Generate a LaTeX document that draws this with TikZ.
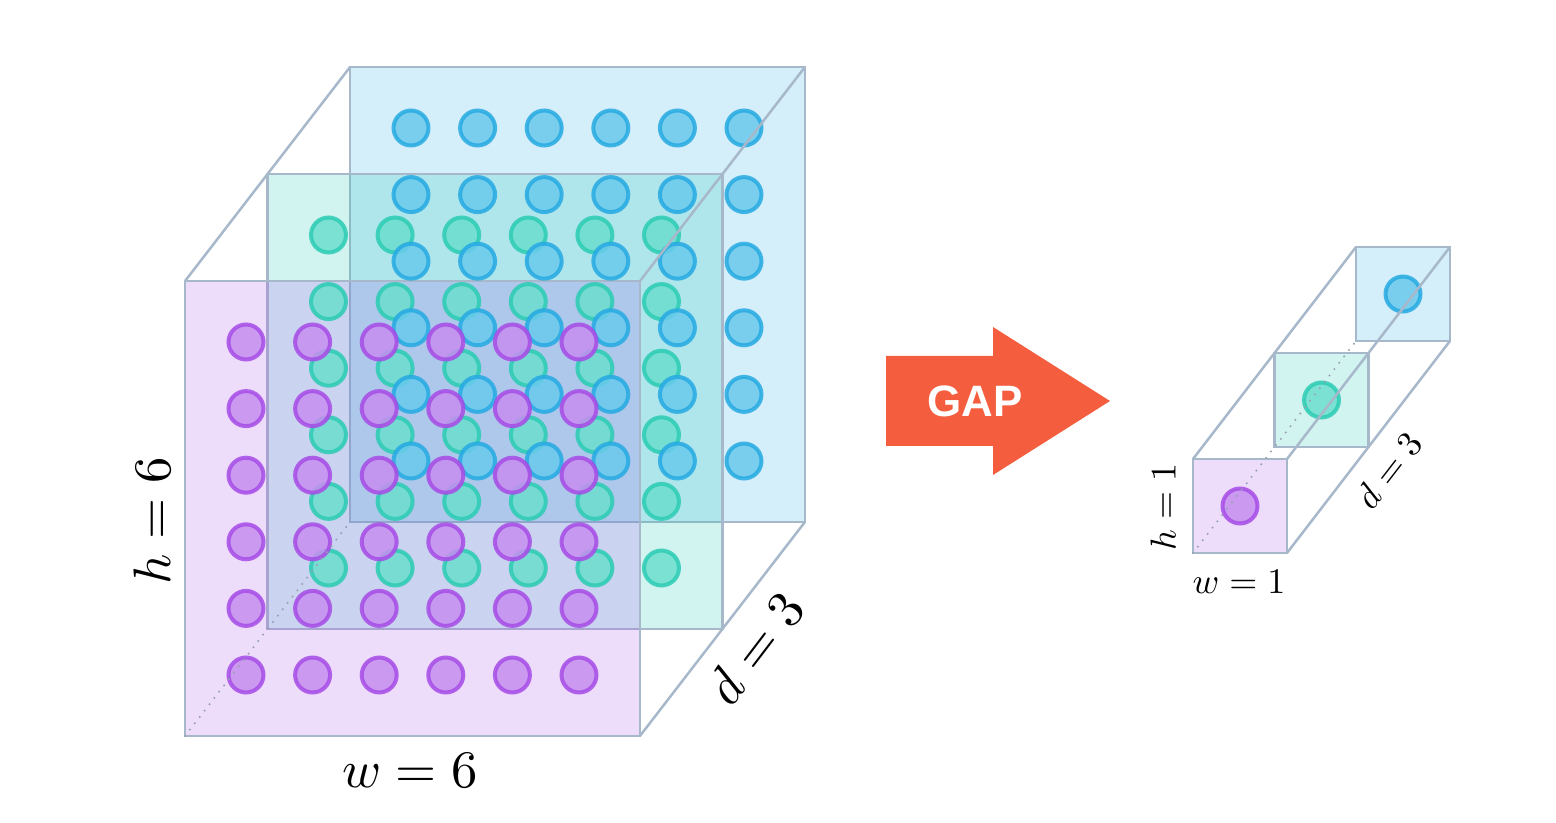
\documentclass[tikz,border=0pt]{standalone}
\usepackage{fontspec}
\newfontfamily\gapfont{Liberation Sans}
\definecolor{edgegrey}{RGB}{168,184,203}
\definecolor{hidgrey}{RGB}{150,160,176}
\definecolor{violetfc}{RGB}{170,80,235}
\definecolor{tealfc}{RGB}{30,200,180}
\definecolor{bluefc}{RGB}{40,170,230}
\definecolor{violetring}{RGB}{166,76,230}
\definecolor{violetfill}{RGB}{198,142,240}
\definecolor{tealring}{RGB}{44,204,180}
\definecolor{tealfill}{RGB}{108,222,206}
\definecolor{bluering}{RGB}{38,170,226}
\definecolor{bluefill}{RGB}{106,202,237}
\definecolor{gaporange}{RGB}{244,93,62}
\begin{document}
\begin{tikzpicture}[x=0.02cm,y=0.02cm]
    \tikzset{%
        face/.style={draw=edgegrey, line width=0.05cm, fill=#1, fill opacity=0.2, inner sep=0pt, outer sep=0pt},
        big/.style={minimum size=9.1cm},
        small/.style={minimum size=1.88cm},
        dot/.style={circle, draw=#1ring, fill=#1fill, line width=0.08cm, minimum size=0.7cm, inner sep=0pt, opacity=0.85},
        e/.style={edgegrey, line width=0.05cm},
        hid/.style={hidgrey, line width=0.045cm, line cap=round, dash pattern=on 0pt off 0.16cm},
        lbl/.style={inner sep=0pt, scale=3},
        slbl/.style={inner sep=0pt, scale=2.05}%
        }
    \useasboundingbox (0,0) rectangle (1556,822);
    % feature maps h x w x d
    \node[face=bluefc, big](bB)at(577.5,527.5){};
    \node[face=tealfc, big](bT)at(495,420.5){};
    \node[face=violetfc, big](bP)at(412.5,313.5){};
    \foreach \c/\x/\y in {teal/495/420.5, blue/577.5/527.5, violet/412.5/313.5}
        \foreach \i in {0,...,5}
            \foreach \j in {0,...,5}
                \node[dot=\c](\c-\i-\j)at({\x-166.5+66.6*\i},{\y+166.5-66.6*\j}){};
    \path
    (bP.north west)edge[e](bB.north west)
    (bP.north east)edge[e](bB.north east)
    (bP.south east)edge[e](bB.south east)
    (bP.south west)edge[hid](bB.south west);
    \node[lbl, rotate=90](hbig)at(152,301){$h=6$};
    \node[lbl](wbig)at(410,51){$w=6$};
    \node[lbl, rotate=52.7](dbig)at(755,174){$d=3$};
    % pooling arrow
    \fill[gaporange] (886,376) -- (993,376) -- (993,347) -- (1110,421)
        -- (993,495) -- (993,466) -- (886,466) -- cycle;
    \node[text=white, inner sep=0pt, font=\gapfont\bfseries\fontsize{25}{30}\selectfont](gap)at(975,421){GAP};
    % pooled vector 1 x 1 x d
    \node[face=bluefc, small](sB)at(1403,528){};
    \node[face=tealfc, small](sT)at(1321.5,422){};
    \node[face=violetfc, small](sP)at(1240,316){};
    \node[dot=teal](sdT)at(sT){};
    \node[dot=blue](sdB)at(sB){};
    \node[dot=violet](sdP)at(sP){};
    \path
    (sP.north west)edge[e](sB.north west)
    (sP.north east)edge[e](sB.north east)
    (sP.south east)edge[e](sB.south east)
    (sP.south west)edge[hid](sB.south west);
    \node[slbl, rotate=90](hsm)at(1163,315){$h=1$};
    \node[slbl](wsm)at(1239,240){$w=1$};
    \node[slbl, rotate=52.3](dsm)at(1389,352){$d=3$};
\end{tikzpicture}
\end{document}
